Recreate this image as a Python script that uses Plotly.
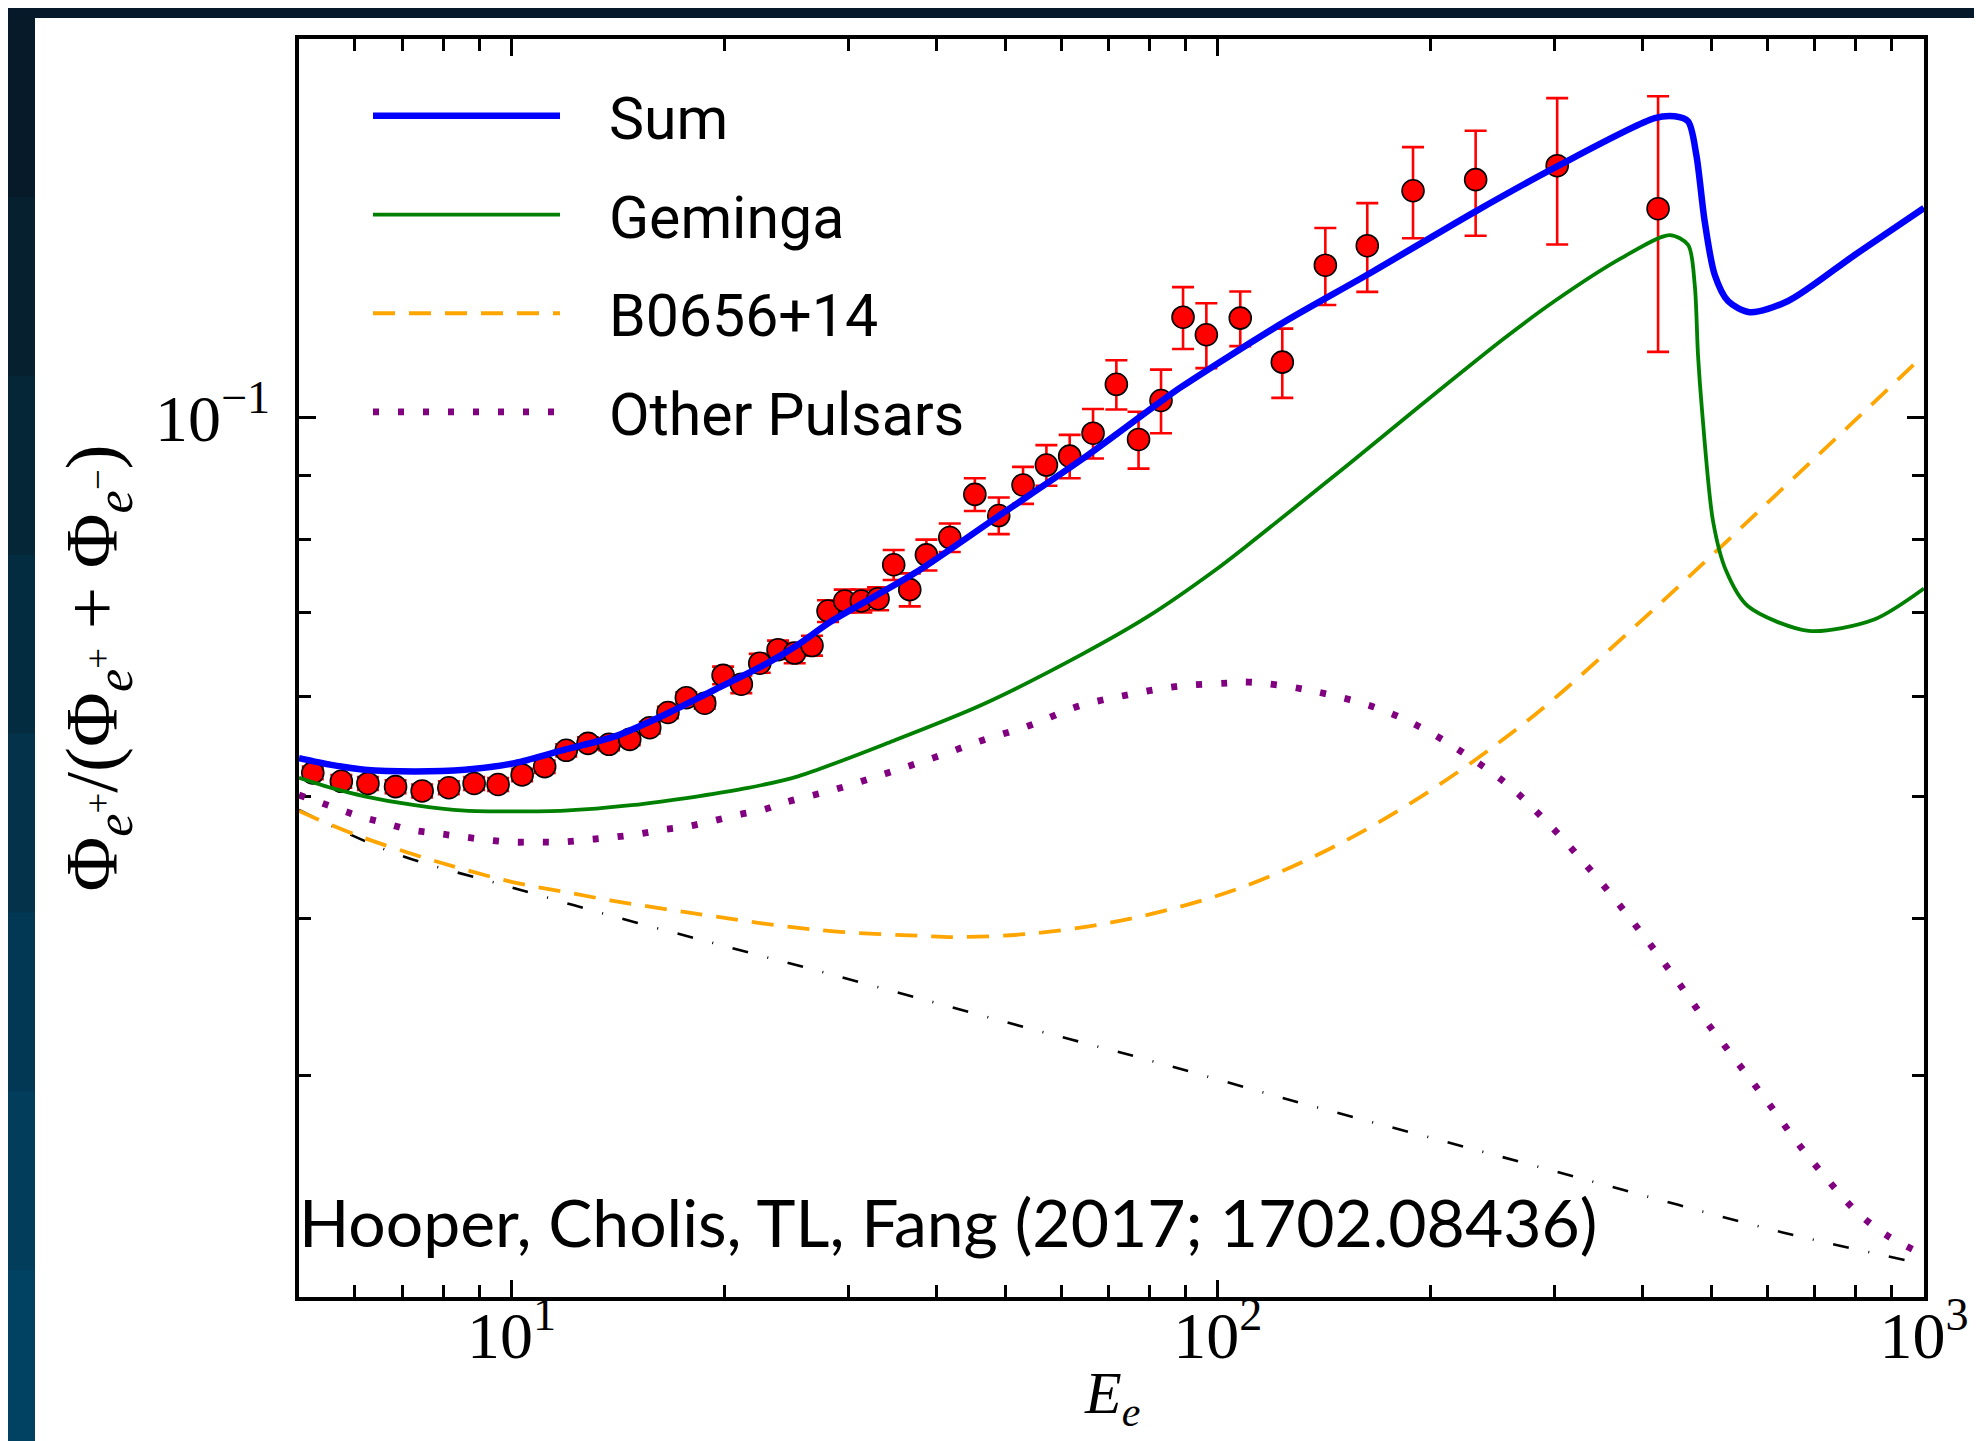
import math
import plotly.graph_objects as go

# ---------------- data ----------------
# AMS-02 positron fraction points
data_E = [5.23, 5.74, 6.26, 6.85, 7.47, 8.15, 8.85, 9.57, 10.35, 11.14, 11.95, 12.83,
          13.74, 14.70, 15.69, 16.65, 17.68, 18.77, 19.93, 21.15, 22.46, 23.84, 25.17,
          26.63, 28.06, 29.63, 31.28, 33.03, 34.76, 36.63, 38.67, 41.73, 45.29, 48.96,
          52.99, 57.19, 61.70, 66.58, 71.84, 77.23, 83.10, 89.29, 96.34, 107.6, 123.4,
          142.0, 162.8, 189.0, 231.8, 302.4, 420.2]
data_V = [0.0522, 0.0514, 0.0512, 0.0509, 0.0505, 0.0508, 0.0512, 0.0511, 0.0520, 0.0528,
          0.0544, 0.0551, 0.0550, 0.0555, 0.0567, 0.0583, 0.0599, 0.0593, 0.0624, 0.0614,
          0.0638, 0.0654, 0.0650, 0.0659, 0.0702, 0.0715, 0.0715, 0.0718, 0.0764, 0.0730,
          0.0778, 0.0803, 0.0869, 0.0836, 0.0884, 0.0917, 0.0932, 0.0972, 0.1063, 0.0961,
          0.1032, 0.1202, 0.1164, 0.1200, 0.1107, 0.1322, 0.1370, 0.1515, 0.1546, 0.1586,
          0.1466]
data_err_up = [0.0006] * 18 + [0.0010, 0.0010, 0.0011, 0.0011, 0.0012, 0.0012,
               0.0014, 0.0015, 0.0015, 0.0015, 0.0021, 0.0022, 0.0022, 0.0021, 0.0026,
               0.0028, 0.0030, 0.0034, 0.0037, 0.0044, 0.0048, 0.0050, 0.0060, 0.0068,
               0.0069, 0.0060, 0.0070, 0.0093, 0.0111, 0.0126, 0.0145, 0.0209, 0.0335]
data_err_down = [0.0006] * 18 + [0.0010, 0.0010, 0.0011, 0.0011, 0.0012, 0.0012,
                 0.0014, 0.0015, 0.0015, 0.0015, 0.0021, 0.0022, 0.0022, 0.0021, 0.0026,
                 0.0028, 0.0030, 0.0034, 0.0037, 0.0044, 0.0048, 0.0050, 0.0060, 0.0068,
                 0.0069, 0.0060, 0.0070, 0.0093, 0.0111, 0.0126, 0.0151, 0.0213, 0.0338]

# Sum of all contributions
sum_E = [5.0, 5.556, 6.194, 7.292, 8.583, 10.10, 11.89, 14.00, 16.48, 19.39, 22.83, 25.44,
         28.36, 37.23, 48.85, 64.10, 83.0, 88.8, 123.4, 162.8, 231.8, 302.4, 415.6, 443.6,
         463.4, 476.0, 489.2, 505.4, 527.8, 566.5, 642.0, 797.8, 1000.0]
sum_V = [0.05363, 0.05297, 0.05250, 0.05234, 0.05250, 0.05314, 0.05446, 0.05580, 0.05806,
         0.06078, 0.06363, 0.06600, 0.06889, 0.07524, 0.08348, 0.09260, 0.1030, 0.1058,
         0.1189, 0.1299, 0.1459, 0.1584, 0.1730, 0.1736, 0.1720, 0.1618, 0.1432, 0.1299,
         0.1238, 0.1213, 0.1238, 0.1347, 0.1468]

# Geminga
gem_E = [5.0, 5.556, 6.194, 7.292, 8.583, 10.10, 11.89, 14.78, 18.37, 21.62, 25.44, 34.68,
         46.27, 64.10, 79.66, 99.0, 110.4, 152.9, 194.2, 254.8, 300.0, 372.7, 436.4, 463.4,
         473.5, 478.6, 484.9, 502.6, 524.4, 562.9, 686.6, 849.9, 1000.0]
gem_V = [0.05173, 0.05078, 0.05001, 0.04920, 0.04871, 0.04864, 0.04871, 0.04920, 0.05001,
         0.05078, 0.05187, 0.05534, 0.05910, 0.06481, 0.06950, 0.07560, 0.07925, 0.09174,
         0.1024, 0.1157, 0.1238, 0.1339, 0.1397, 0.1372, 0.1276, 0.1122, 0.1014, 0.08277,
         0.07559, 0.07084, 0.06769, 0.06911, 0.07315]

# B0656+14
b06_E = [5.0, 5.262, 6.081, 7.311, 8.495, 10.03, 11.85, 13.99, 16.52, 19.51, 23.84, 29.56,
         37.96, 42.60, 53.86, 68.57, 85.87, 107.4, 134.5, 164.8, 202.2, 248.0, 293.0, 394.7,
         509.2, 639.8, 790.9, 1000.0]
b06_V = [0.04868, 0.04807, 0.04650, 0.04491, 0.04380, 0.04274, 0.04199, 0.04128, 0.04068,
         0.04012, 0.03948, 0.03900, 0.03874, 0.03865, 0.03887, 0.03958, 0.04068, 0.04227,
         0.04458, 0.04730, 0.05074, 0.05498, 0.05917, 0.06868, 0.07842, 0.08850, 0.09900,
         0.1122]

# Other pulsars
oth_E = [5.0, 5.642, 6.095, 6.612, 7.175, 7.785, 8.446, 9.210, 9.99, 10.84, 11.76, 12.76,
         13.84, 15.10, 16.38, 17.78, 19.28, 20.92, 22.70, 24.49, 28.85, 33.80, 39.56, 46.35,
         54.26, 63.41, 74.64, 87.83, 103.4, 110.4, 134.2, 168.1, 195.9, 226.1, 258.5, 292.1,
         326.8, 363.4, 402.7, 444.1, 489.7, 541.1, 599.4, 661.1, 731.2, 806.5, 889.2, 986.9]
oth_V = [0.05012, 0.04894, 0.04820, 0.04762, 0.04704, 0.04675, 0.04647, 0.04618, 0.04599,
         0.04599, 0.04599, 0.04618, 0.04638, 0.04667, 0.04704, 0.04733, 0.04781, 0.04834,
         0.04879, 0.04948, 0.05068, 0.05211, 0.05365, 0.05539, 0.05695, 0.05896, 0.06022,
         0.06116, 0.06153, 0.06164, 0.06075, 0.05877, 0.05655, 0.05383, 0.05097, 0.04773,
         0.04458, 0.04155, 0.03861, 0.03587, 0.03321, 0.03086, 0.02862, 0.02655, 0.02477,
         0.02332, 0.02236, 0.02168]

# secondary background (black dash-dot)
bkg_E = [5.0, 5.886, 7.066, 9.851, 13.99, 19.84, 27.87, 39.56, 55.64, 79.09, 131.7, 221.8,
         373.3, 630.7, 1000.0]
bkg_V = [0.04877, 0.04667, 0.04475, 0.04243, 0.04012, 0.03807, 0.03619, 0.03431, 0.03256,
         0.03090, 0.02851, 0.02636, 0.02435, 0.02251, 0.02124]

legend_names = ["Sum", "Geminga", "B0656+14", "Other Pulsars"]
x_major = [10, 100, 1000]
x_major_text = ["10<sup>1</sup>", "10<sup>2</sup>", "10<sup>3</sup>"]
x_minor = [6, 7, 8, 9, 20, 30, 40, 50, 60, 70, 80, 90, 200, 300, 400, 500, 600, 700, 800, 900]
y_major = [0.1]
y_major_text = ["10<sup>\u22121</sup>"]
y_minor = [0.03, 0.04, 0.05, 0.06, 0.07, 0.08, 0.09]
x_title = "<i>E</i><sub><i>e</i></sub>"
y_title = ("\u03a6<sub><i>e</i><sup>+</sup></sub>/(\u03a6<sub><i>e</i><sup>+</sup></sub> + "
           "\u03a6<sub><i>e</i><sup>\u2212</sup></sub>)")
credit_text = "Hooper, Cholis, TL, Fang (2017; 1702.08436)"

# ---------------- figure ----------------
W, H = 1982, 1441
L, R, T, B = 291, 1916, 31, 1289
pw, ph = R - L, B - T

def px2paper_x(px):
    return (px - L) / pw

def px2paper_y(py):
    return (B - py) / ph

GAP = "\u00a0\u00a0\u00a0"
SERIF = "Liberation Serif, DejaVu Serif, serif"

fig = go.Figure()

fig.add_trace(go.Scatter(
    x=data_E, y=data_V, mode="markers", showlegend=False, zorder=0,
    marker=dict(color="#ff0000", size=22, line=dict(color="black", width=1.6)),
    error_y=dict(type="data", symmetric=False, array=data_err_up, arrayminus=data_err_down,
                 color="#ff0000", thickness=2.6, width=11),
))
fig.add_trace(go.Scatter(
    x=bkg_E, y=bkg_V, mode="lines", showlegend=False, zorder=1,
    line=dict(color="black", width=2.6, dash="16px,20px,1px,20px", shape="spline"),
))
fig.add_trace(go.Scatter(
    x=sum_E, y=sum_V, mode="lines", name=GAP + legend_names[0], legendgroup="g1", zorder=6,
    line=dict(color="#0000ff", width=6.5, shape="spline", smoothing=0.8),
))
fig.add_trace(go.Scatter(
    x=gem_E, y=gem_V, mode="lines", name=GAP + legend_names[1], legendgroup="g2", zorder=5,
    line=dict(color="#008000", width=3.8, shape="spline", smoothing=0.8),
))
fig.add_trace(go.Scatter(
    x=b06_E, y=b06_V, mode="lines", name=GAP + legend_names[2], legendgroup="g3", zorder=4,
    line=dict(color="#ffa500", width=3.8, dash="22px,14px", shape="spline"),
))
fig.add_trace(go.Scatter(
    x=oth_E, y=oth_V, mode="lines", name=GAP + legend_names[3], legendgroup="g4", zorder=3,
    line=dict(color="#800080", width=6.8, dash="6px,19px", shape="spline"),
))

axis_common = dict(
    type="log", showline=True, linecolor="black", linewidth=3.5, mirror="allticks",
    ticks="inside", ticklen=17, tickwidth=3, tickcolor="black", showgrid=False,
    zeroline=False, tickmode="array", automargin=False,
    tickfont=dict(family=SERIF, size=66, color="black"),
)

fig.update_xaxes(
    **axis_common,
    range=[math.log10(5), 3],
    tickvals=x_major, ticktext=x_major_text,
    ticklabelstandoff=-22,
    minor=dict(ticks="inside", ticklen=12, tickwidth=3, tickcolor="black",
               tickmode="array", tickvals=x_minor, showgrid=False),
)
fig.update_yaxes(
    **axis_common,
    range=[math.log10(0.02), math.log10(0.2)],
    tickvals=y_major, ticktext=y_major_text,
    ticklabelstandoff=12,
    minor=dict(ticks="inside", ticklen=12, tickwidth=3, tickcolor="black",
               tickmode="array", tickvals=y_minor, showgrid=False),
    title=dict(text=y_title, standoff=14,
               font=dict(family=SERIF, size=75, color="black")),
)

# white slide panel on the dark slide background
shapes = [dict(type="rect", xref="paper", yref="paper", layer="below",
               x0=px2paper_x(27), x1=px2paper_x(W + 5), y0=px2paper_y(H + 5), y1=px2paper_y(10),
               fillcolor="white", line=dict(width=0))]
# subtle gradient on the dark left band
band_cols = ["#071a29", "#06202f", "#052636", "#042c40", "#03324a", "#023853", "#023d5b", "#014262"]
n = len(band_cols)
for i, c in enumerate(band_cols):
    y0 = 10 + i * (H - 10) / n
    y1 = 10 + (i + 1) * (H - 10) / n + 1
    shapes.append(dict(type="rect", xref="paper", yref="paper", layer="below",
                       x0=px2paper_x(-5), x1=px2paper_x(27), y0=px2paper_y(y1), y1=px2paper_y(y0),
                       fillcolor=c, line=dict(width=0)))

fig.update_layout(
    width=W, height=H, autosize=False,
    margin=dict(l=L, r=W - R, t=T, b=H - B, pad=0, autoexpand=False),
    paper_bgcolor="#06192a", plot_bgcolor="white",
    shapes=shapes,
    showlegend=True,
    legend=dict(
        x=px2paper_x(360), y=px2paper_y(63), xanchor="left", yanchor="top",
        bgcolor="rgba(0,0,0,0)", borderwidth=0, itemwidth=187,
        traceorder="grouped", tracegroupgap=19,
        font=dict(family="Roboto, Lato, sans-serif", size=59, color="black"),
    ),
    annotations=[
        dict(text=credit_text, xref="paper", yref="paper", x=px2paper_x(289), y=px2paper_y(1213),
             xanchor="left", yanchor="middle", showarrow=False,
             font=dict(family="Lato, Open Sans, sans-serif", size=66, color="black")),
        dict(text=x_title, xref="paper", yref="paper", x=0.5, y=px2paper_y(1428),
             xanchor="center", yanchor="bottom", showarrow=False, borderpad=0,
             font=dict(family=SERIF, size=60, color="black")),
    ],
)

fig.write_html("out.html")
